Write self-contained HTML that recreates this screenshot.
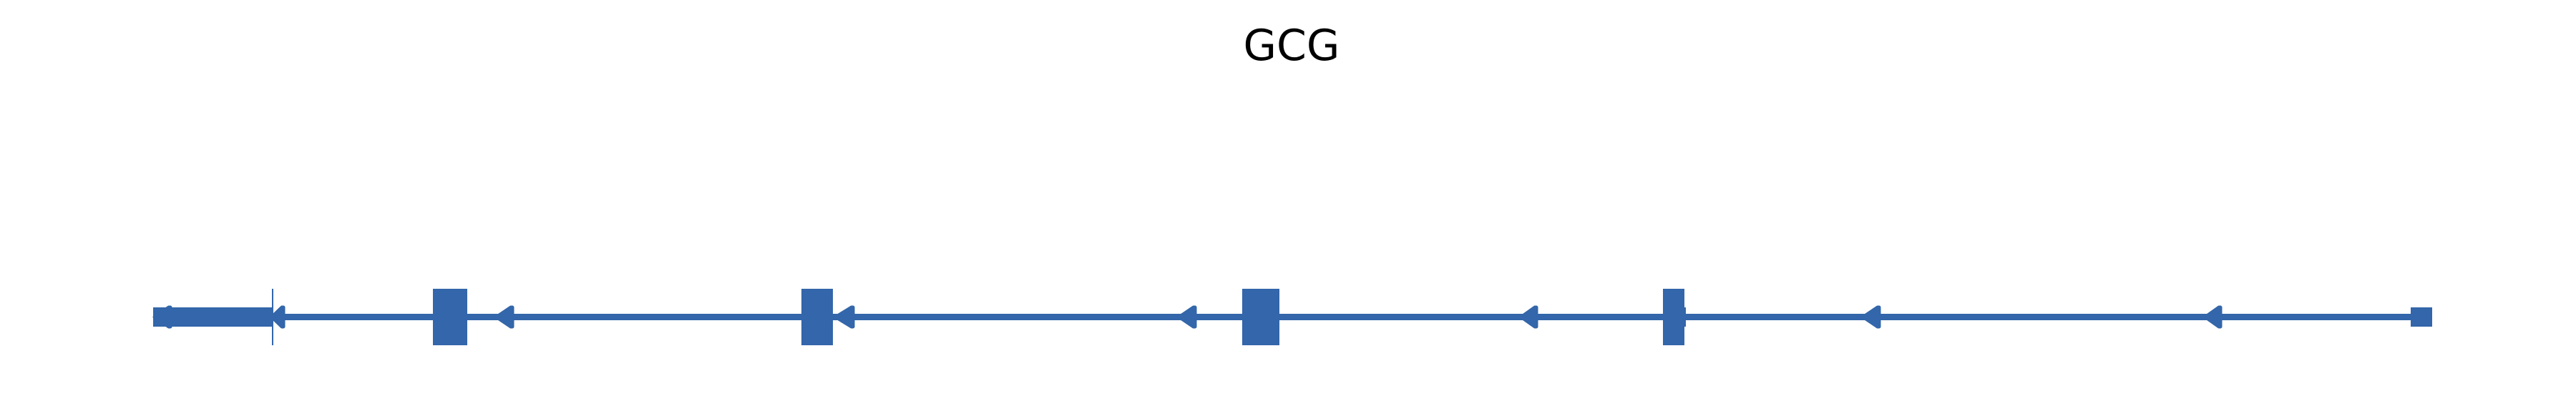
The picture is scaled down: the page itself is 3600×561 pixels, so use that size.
<!DOCTYPE html>
<html><head><style>html,body{margin:0;padding:0;background:#fff;width:3600px;height:561px;overflow:hidden}</style></head>
<body>
<svg width="3600" height="561" xmlns="http://www.w3.org/2000/svg">
<text x="1805" y="84" font-family="DejaVu Sans, sans-serif" font-size="60" text-anchor="middle" fill="#000">GCG</text>
<g fill="#3366aa" stroke="none">
<rect x="214" y="439" width="3185" height="9"/>
<rect x="214" y="430" width="167" height="27"/>
<rect x="380" y="404" width="2" height="79"/>
<rect x="605" y="404" width="48" height="79"/>
<rect x="1120" y="404" width="44" height="79"/>
<rect x="1736" y="404" width="52" height="79"/>
<rect x="2324" y="404" width="30" height="79"/>
<rect x="2324" y="430" width="32" height="27"/>
<rect x="3369" y="430" width="30" height="27"/>
</g>
<g fill="#3366aa" stroke="#3366aa" stroke-width="5" stroke-linejoin="round">
<polygon points="216,443.5 236,430 238,430 238,457 236,457"/>
<polygon points="380,443.5 394,430 396,430 396,457 394,457"/>
<polygon points="694,443.5 714,430 716,430 716,457 714,457"/>
<polygon points="1168,443.5 1190,430 1192,430 1192,457 1190,457"/>
<polygon points="1648,443.5 1668,430 1670,430 1670,457 1668,457"/>
<polygon points="2126,443.5 2145,430 2147,430 2147,457 2145,457"/>
<polygon points="2604,443.5 2624,430 2626,430 2626,457 2624,457"/>
<polygon points="3082,443.5 3101,430 3103,430 3103,457 3101,457"/>
</g>
</svg>
</body></html>
